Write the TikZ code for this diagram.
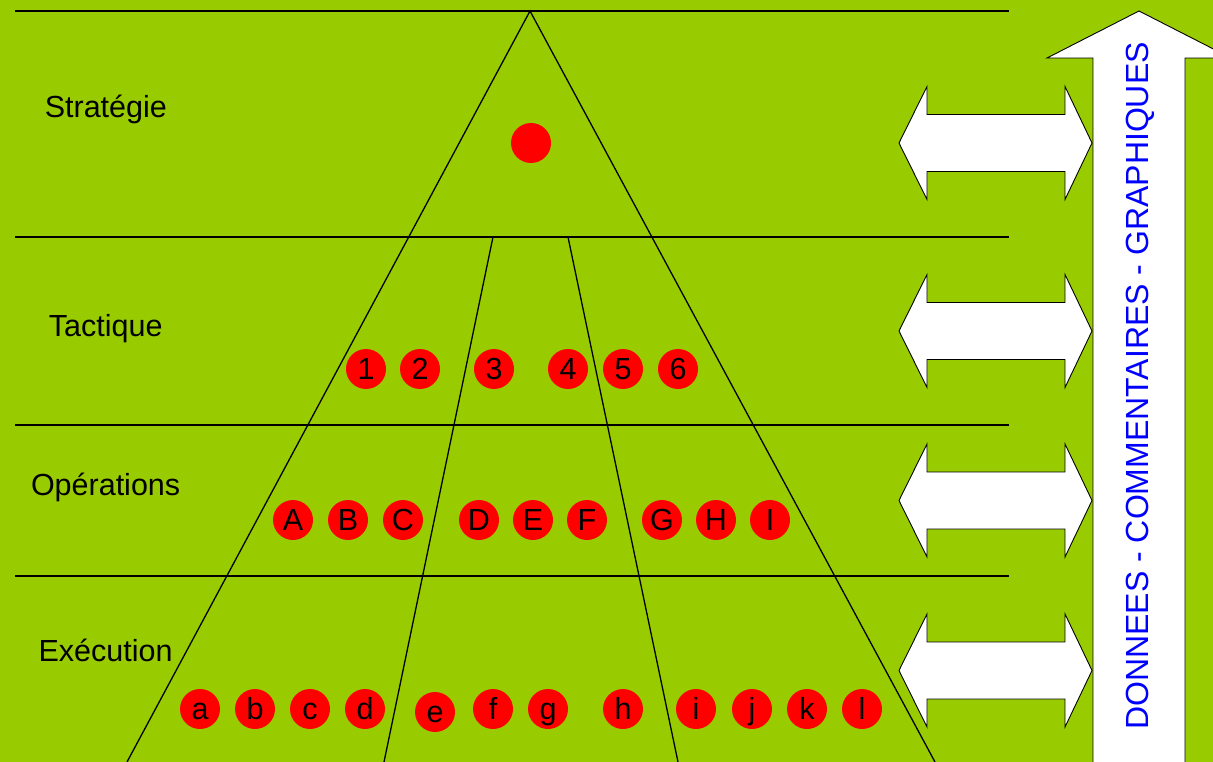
\documentclass[tikz,border=0pt]{standalone}
\usepackage{fontspec}
\setmainfont{Liberation Sans}
\definecolor{bggreen}{RGB}{153,204,0}
\definecolor{dotred}{RGB}{255,0,0}
\definecolor{txtblue}{RGB}{0,0,255}
\tikzset{
  hline/.style={draw=black,line width=1.4pt},
  pyr/.style={draw=black,line width=1.3pt},
  dot/.style={circle,fill=dotred,minimum size=40pt,inner sep=0pt,
    text height=20pt,text depth=0pt,font=\fontsize{30.5}{30.5}\selectfont},
  lvl/.style={anchor=base west,inner sep=0pt,font=\fontsize{30.5}{36}\selectfont},
  dblarrow/.style={fill=white,draw=black,line width=0.9pt,line join=miter},
}
\begin{document}
\begin{tikzpicture}[x=1pt,y=-1pt]
\fill[bggreen] (0,0) rectangle (1213,762);
\useasboundingbox (0,0) rectangle (1213,762);
\clip (0,0) rectangle (1213,762);
% horizontal lines
\draw[hline] (15,11) -- (1009,11);
\draw[hline] (15,237) -- (1009,237);
\draw[hline] (15,425) -- (1009,425);
\draw[hline] (15,576) -- (1009,576);
% pyramid
\coordinate (apex) at (530,11);
\coordinate (bl) at (127,762);
\coordinate (br) at (935,762);
\coordinate (i1t) at (493,237);
\coordinate (i1b) at (384,762);
\coordinate (i2t) at (568,237);
\coordinate (i2b) at (678,762);
\draw[pyr] (bl) -- (apex) -- (br);
\draw[pyr] (i1t) -- (i1b);
\draw[pyr] (i2t) -- (i2b);
% level labels
\node[lvl] (lS) at (44.6,117.5) {Stratégie};
\node[lvl] (lT) at (48.7,336) {Tactique};
\node[lvl] (lO) at (30.8,495.7) {Opérations};
\node[lvl] (lE) at (38.4,661) {Exécution};
% dots
\node[dot] (s0) at (531,143) {};
\node[dot] (t1) at (366,369) {1};
\node[dot] (t2) at (420,369) {2};
\node[dot] (t3) at (494,369) {3};
\node[dot] (t4) at (568,369) {4};
\node[dot] (t5) at (623,369) {5};
\node[dot] (t6) at (678,369) {6};
\node[dot] (oA) at (293,520) {A};
\node[dot] (oB) at (348,520) {B};
\node[dot] (oC) at (403,520) {C};
\node[dot] (oD) at (479,520) {D};
\node[dot] (oE) at (533,520) {E};
\node[dot] (oF) at (587,520) {F};
\node[dot] (oG) at (662,520) {G};
\node[dot] (oH) at (716,520) {H};
\node[dot] (oI) at (770,520) {I};
\node[dot] (ea) at (200,709) {a};
\node[dot] (eb) at (255,709) {b};
\node[dot] (ec) at (310,709) {c};
\node[dot] (ed) at (365,709) {d};
\node[dot] (ee) at (435,712) {e};
\node[dot] (ef) at (493,709) {f};
\node[dot] (eg) at (548,709) {g};
\node[dot] (eh) at (623,709) {h};
\node[dot] (ei) at (696,709) {i};
\node[dot] (ej) at (752,709) {j};
\node[dot] (ek) at (807,709) {k};
\node[dot] (el) at (862,709) {l};
% double arrows
\foreach \cy in {143,331,500.5,670.5}{
  \draw[dblarrow] (899,\cy) -- (927,\cy-56.5) -- (927,\cy-28.5) -- (1065,\cy-28.5)
    -- (1065,\cy-56.5) -- (1092,\cy) -- (1065,\cy+56.5) -- (1065,\cy+28.5)
    -- (927,\cy+28.5) -- (927,\cy+56.5) -- cycle;
}
% big up arrow
\draw[dblarrow] (1093,800) -- (1093,58) -- (1047,58) -- (1139,11) -- (1231,58)
  -- (1185,58) -- (1185,800) -- cycle;
\node[rotate=90,anchor=base,text=txtblue,font=\fontsize{32}{32}\selectfont,inner sep=0pt]
  (bigtxt) at (1148,386) {DONNEES - COMMENTAIRES - GRAPHIQUES};
\end{tikzpicture}
\end{document}
